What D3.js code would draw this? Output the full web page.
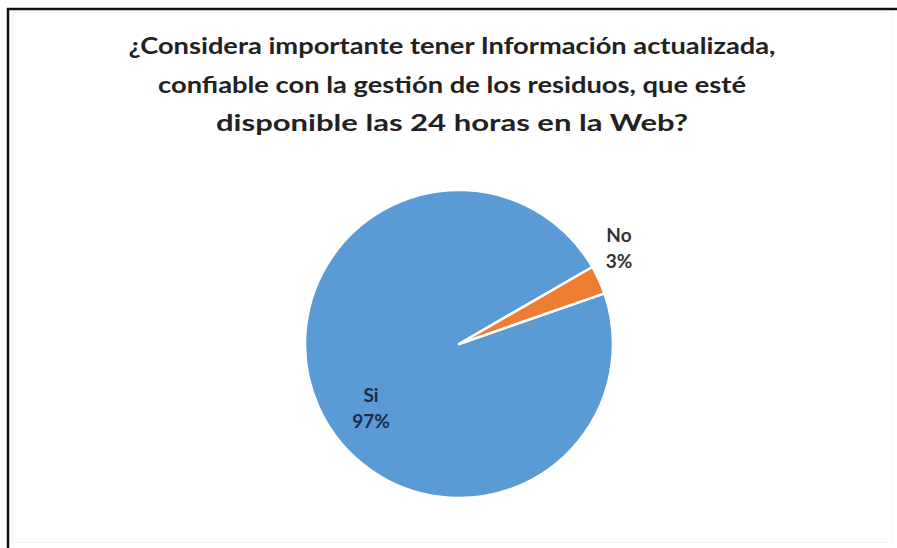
<!DOCTYPE html>
<html>
<head>
<meta charset="utf-8">
<script src="https://cdn.jsdelivr.net/npm/d3@7"></script>
<style>
html,body{margin:0;padding:0;background:#fff;}
svg{display:block;}
</style>
</head>
<body>
<svg id="chart" width="897" height="548"></svg>
<script>
const categories = ["Si", "No"];
const values = [97, 3];
const labels = ["97%", "3%"];
const colors = ["#5B9BD5", "#ED7D31"];
const titleLines = [
  "¿Considera importante tener Información actualizada,",
  "confiable con la gestión de los residuos, que esté",
  "disponible las 24 horas en la Web?"
];

const svg = d3.select("#chart");
const W = 897, H = 548;

// outer frame (cropped on right/bottom)
svg.append("rect").attr("x", 0).attr("y", 0).attr("width", W).attr("height", H).attr("fill", "#fff");
svg.append("rect").attr("x", 12.5).attr("y", 12.5).attr("width", 880).attr("height", 530)
  .attr("fill", "none").attr("stroke", "#f4f4f4").attr("stroke-width", 1);
svg.append("line").attr("x1", 7).attr("x2", W).attr("y1", 9).attr("y2", 9)
  .attr("stroke", "#111").attr("stroke-width", 2.5);
svg.append("line").attr("x1", 8).attr("x2", 8).attr("y1", 8).attr("y2", H)
  .attr("stroke", "#111").attr("stroke-width", 2.5);

// title
const title = svg.append("g").attr("font-family", "Lato, 'Open Sans', sans-serif")
  .attr("font-weight", "bold").attr("font-size", 22).attr("fill", "#222").attr("text-anchor", "middle");
const titleWidths = [647, 588, 472];
titleLines.forEach((t, i) => {
  title.append("text").attr("x", 452).attr("y", 54 + i * 38.5).text(t)
    .attr("textLength", titleWidths[i]).attr("lengthAdjust", "spacingAndGlyphs");
});

// pie
const cx = 459, cy = 344, R = 154;
const start = 70.8 * Math.PI / 180;
const pie = d3.pie().sort(null).value(d => d.v).startAngle(start).endAngle(start + 2 * Math.PI);
const data = categories.map((c, i) => ({c, v: values[i], l: labels[i], col: colors[i]}));
const arcs = pie(data);
const arc = d3.arc().innerRadius(0).outerRadius(R);
const g = svg.append("g").attr("transform", `translate(${cx},${cy})`);
g.selectAll("path").data(arcs).join("path")
  .attr("d", arc).attr("fill", d => d.data.col)
  .attr("stroke", "#fff").attr("stroke-width", 2.5).attr("stroke-linejoin", "round");

// labels
const labelPos = {
  "Si": [371 - cx, 395 - cy],
  "No": [619 - cx, 235 - cy]
};
const lg = g.append("g").attr("font-family", "Lato, 'Open Sans', sans-serif")
  .attr("font-weight", "bold").attr("font-size", 19).attr("text-anchor", "middle");
arcs.forEach(d => {
  const p = labelPos[d.data.c];
  const t = lg.append("text").attr("x", p[0]).attr("y", p[1]).attr("fill", d.data.c === "Si" ? "#1c2b47" : "#333");
  t.append("tspan").attr("x", p[0]).attr("dy", "0.35em").text(d.data.c);
  t.append("tspan").attr("x", p[0]).attr("dy", 26).text(d.data.l);
});
</script>
</body>
</html>
